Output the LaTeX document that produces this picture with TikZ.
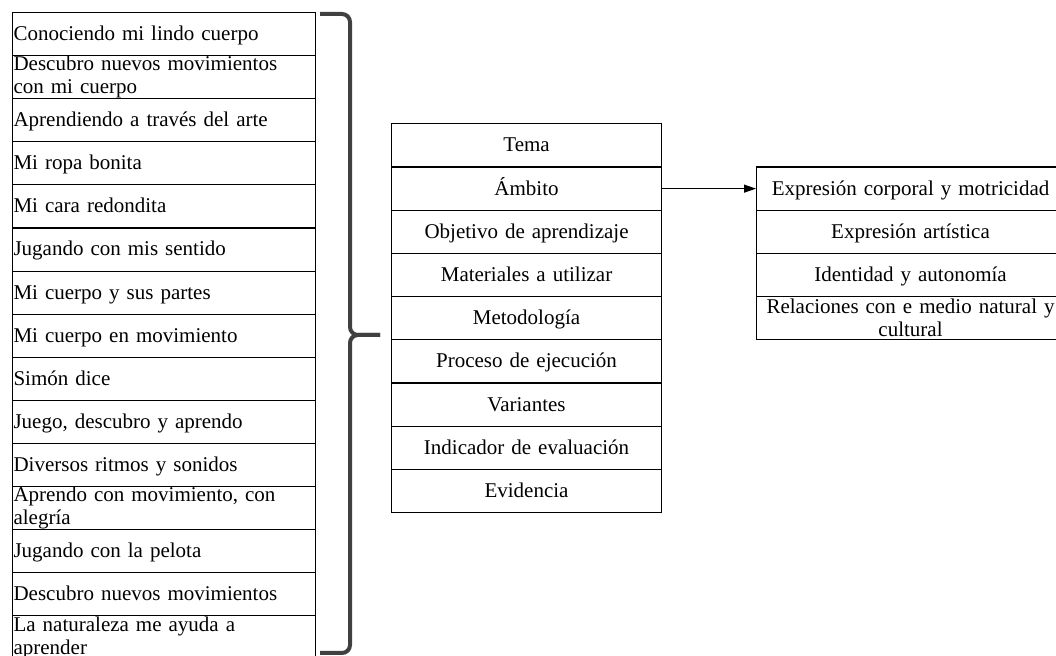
\documentclass[tikz,border=0pt]{standalone}
\usepackage{fontspec}
\setmainfont{Liberation Serif}
\usetikzlibrary{arrows.meta}
\definecolor{bracegray}{HTML}{404040}

\tikzset{
  rowbox/.style={draw,line width=0.55pt,anchor=north west,inner xsep=0.5pt,inner ysep=0pt,
    minimum height=21.55pt,font=\fontsize{10.5}{11.5}\selectfont},
  oneline/.style={text height=8.2pt,text depth=1.8pt},
  leftrow/.style={rowbox,text width=150.5pt,align=left},
  midrow/.style={rowbox,oneline,text width=134pt,align=center,minimum height=21.6pt},
  rightrow/.style={rowbox,text width=153pt,align=center,minimum height=21.6pt},
  bracket/.style={draw=bracegray,line width=2pt,rounded corners=4pt},
}

\begin{document}
\begin{tikzpicture}[x=0.5pt,y=-0.5pt]
    \useasboundingbox (0,0) rectangle (1056,656);
    \clip (0,0) rectangle (1056,656);
    % lista de actividades
    \node[leftrow,oneline] (a1) at (12,12) {Conociendo mi lindo cuerpo};
    \node[leftrow] (a2) at (12,55.1) {Descubro nuevos movimientos\\con mi cuerpo};
    \node[leftrow,oneline] (a3) at (12,98.2) {Aprendiendo a través del arte};
    \node[leftrow,oneline] (a4) at (12,141.3) {Mi ropa bonita};
    \node[leftrow,oneline] (a5) at (12,184.4) {Mi cara redondita};
    \node[leftrow,oneline] (a6) at (12,227.5) {Jugando con mis sentido};
    \node[leftrow,oneline] (a7) at (12,270.6) {Mi cuerpo y sus partes};
    \node[leftrow,oneline] (a8) at (12,313.7) {Mi cuerpo en movimiento};
    \node[leftrow,oneline] (a9) at (12,356.8) {Simón dice};
    \node[leftrow,oneline] (a10) at (12,399.9) {Juego, descubro y aprendo};
    \node[leftrow,oneline] (a11) at (12,443.0) {Diversos ritmos y sonidos};
    \node[leftrow] (a12) at (12,486.1) {Aprendo con movimiento, con\\alegría};
    \node[leftrow,oneline] (a13) at (12,529.2) {Jugando con la pelota};
    \node[leftrow,oneline] (a14) at (12,572.3) {Descubro nuevos movimientos};
    \node[leftrow] (a15) at (12,615.4) {La naturaleza me ayuda a\\aprender};
    % llave
    \coordinate (bt) at (320,14);
    \coordinate (bb) at (320,653);
    \coordinate (bm) at (380,335);
    \draw[bracket] (bt) -- (350,14) -- (350,335) -- (bm);
    \draw[bracket] (bb) -- (350,653) -- (350,335) -- (bm);
    % estructura de la planificacion
    \node[midrow] (p1) at (391,123.3) {Tema};
    \node[midrow] (p2) at (391,166.5) {Ámbito};
    \node[midrow] (p3) at (391,209.7) {Objetivo de aprendizaje};
    \node[midrow] (p4) at (391,252.9) {Materiales a utilizar};
    \node[midrow] (p5) at (391,296.1) {Metodología};
    \node[midrow] (p6) at (391,339.3) {Proceso de ejecución};
    \node[midrow] (p7) at (391,382.5) {Variantes};
    \node[midrow] (p8) at (391,425.7) {Indicador de evaluación};
    \node[midrow] (p9) at (391,468.9) {Evidencia};
    % ambitos
    \node[rightrow,oneline] (s1) at (756,166.5) {Expresión corporal y motricidad};
    \node[rightrow,oneline] (s2) at (756,209.7) {Expresión artística};
    \node[rightrow,oneline] (s3) at (756,252.9) {Identidad y autonomía};
    \node[rightrow] (s4) at (756,296.1) {Relaciones con e medio natural y\\cultural};
    \draw[line width=0.55pt,-{Triangle[length=6pt,width=4pt]}] (p2.east) -- (s1.west);
\end{tikzpicture}
\end{document}
